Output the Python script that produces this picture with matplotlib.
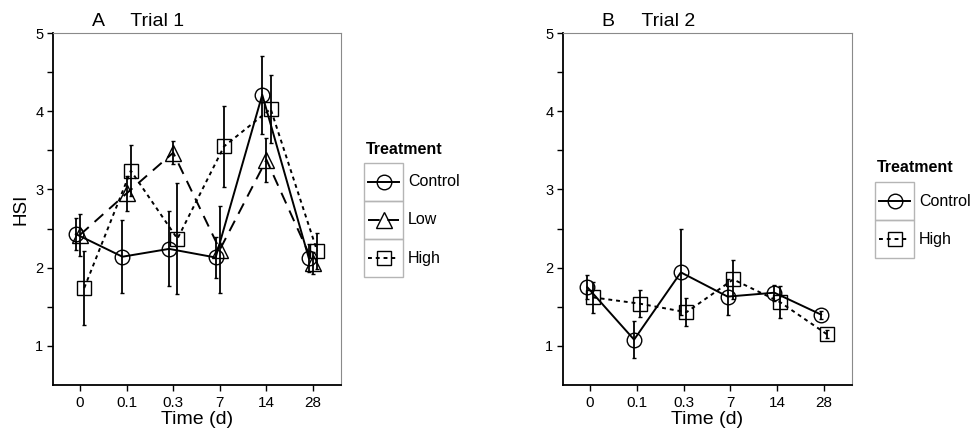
import matplotlib
matplotlib.use("Agg")
import matplotlib.pyplot as plt
from matplotlib.lines import Line2D
from matplotlib.patches import Rectangle
import numpy as np

plt.rcParams['font.family'] = ['Liberation Sans', 'DejaVu Sans']

times = ['0', '0.1', '0.3', '7', '14', '28']

A_control = [2.43, 2.14, 2.24, 2.13, 4.21, 2.12]
A_control_err = [0.20, 0.47, 0.48, 0.26, 0.50, 0.18]
A_low = [2.42, 2.95, 3.47, 2.23, 3.38, 2.06]
A_low_err = [0.27, 0.22, 0.15, 0.56, 0.28, 0.14]
A_high = [1.74, 3.24, 2.37, 3.55, 4.03, 2.21]
A_high_err = [0.47, 0.33, 0.71, 0.52, 0.43, 0.23]

B_control = [1.75, 1.08, 1.94, 1.63, 1.68, 1.40]
B_control_err = [0.15, 0.24, 0.55, 0.23, 0.10, 0.05]
B_high = [1.62, 1.54, 1.43, 1.85, 1.56, 1.15]
B_high_err = [0.20, 0.17, 0.18, 0.25, 0.20, 0.05]

W, H = 971, 430
fig = plt.figure(figsize=(W / 100, H / 100), dpi=100)

styles = {
    'Control': dict(marker='o', ls='-', ms=10.5),
    'Low': dict(marker='^', ls=(0, (6, 4)), ms=11.5),
    'High': dict(marker='s', ls=(0, (2, 2)), ms=9.5),
}


def px_axes(l, t, r, b):
    return fig.add_axes([l / W, 1 - b / H, (r - l) / W, (b - t) / H])


def style_axes(ax, title):
    x = np.arange(1, len(times) + 1)
    ax.set_xlim(0.42, 6.6)
    ax.set_ylim(0.5, 5.0)
    ax.set_xticks(x)
    ax.set_xticklabels(times, fontsize=11)
    yt = np.arange(1, 5.01, 0.5)
    ax.set_yticks(yt)
    ax.set_yticklabels([f"{v:g}" if v == int(v) else "" for v in yt], fontsize=10.5)
    ax.tick_params(direction='out', length=4, width=1, colors='black', pad=3)
    ax.tick_params(axis='x', pad=4)
    for s in ['left', 'bottom']:
        ax.spines[s].set_linewidth(1.3)
        ax.spines[s].set_color('black')
    for s in ['top', 'right']:
        ax.spines[s].set_linewidth(0.8)
        ax.spines[s].set_color('#8a8a8a')
    ax.set_xlabel('Time (d)', fontsize=14, labelpad=1)
    ax.set_title(title, fontsize=14, loc='left', x=0.135, pad=5)


def draw_series(ax, vals, errs, name, offset):
    x = np.arange(1, len(times) + 1) + offset
    st = styles[name]
    ax.errorbar(x, vals, yerr=errs, fmt='none', ecolor='black', elinewidth=1.3,
                capsize=1.5, capthick=1.0, zorder=2)
    ax.plot(x, vals, color='black', lw=1.4, linestyle=st['ls'], zorder=3)
    ax.plot(x, vals, color='black', marker=st['marker'], ms=st['ms'],
            mfc='none', mec='black', mew=1.0, ls='none', zorder=4)


axA = px_axes(53, 33, 341, 385)
draw_series(axA, A_control, A_control_err, 'Control', -0.09)
draw_series(axA, A_low, A_low_err, 'Low', 0.0)
draw_series(axA, A_high, A_high_err, 'High', 0.09)
style_axes(axA, 'A     Trial 1')
axA.set_ylabel('HSI', fontsize=13.5, labelpad=4)

axB = px_axes(563, 33, 852, 385)
draw_series(axB, B_control, B_control_err, 'Control', -0.06)
draw_series(axB, B_high, B_high_err, 'High', 0.06)
style_axes(axB, 'B     Trial 2')


def fx(x):
    return x / W


def fy(y):
    return 1 - y / H


def draw_legend(left, top, names, title_y, key_h=38, key_w=39):
    fig.text(fx(left + 2), fy(title_y), 'Treatment', fontsize=11.5,
             fontweight='bold', va='center', ha='left')
    for i, name in enumerate(names):
        t = top + i * key_h
        fig.patches.append(Rectangle((fx(left), fy(t + key_h)), key_w / W, key_h / H,
                                     transform=fig.transFigure, fill=False,
                                     edgecolor='#b5b5b5', lw=1.0))
        cy = t + key_h / 2
        st = styles[name]
        fig.lines.append(Line2D([fx(left + 4), fx(left + key_w - 4)], [fy(cy), fy(cy)],
                                transform=fig.transFigure, color='black', lw=1.4,
                                linestyle=st['ls']))
        fig.lines.append(Line2D([fx(left + key_w / 2)], [fy(cy)],
                                transform=fig.transFigure, color='black',
                                marker=st['marker'], ms=st['ms'], mfc='none',
                                mec='black', mew=1.0, ls='none'))
        fig.text(fx(left + key_w + 5), fy(cy), name, fontsize=11.5, va='center', ha='left')


draw_legend(364, 163, ['Control', 'Low', 'High'], 149)
draw_legend(875, 182, ['Control', 'High'], 168)

fig.savefig('out.png', dpi=100)
